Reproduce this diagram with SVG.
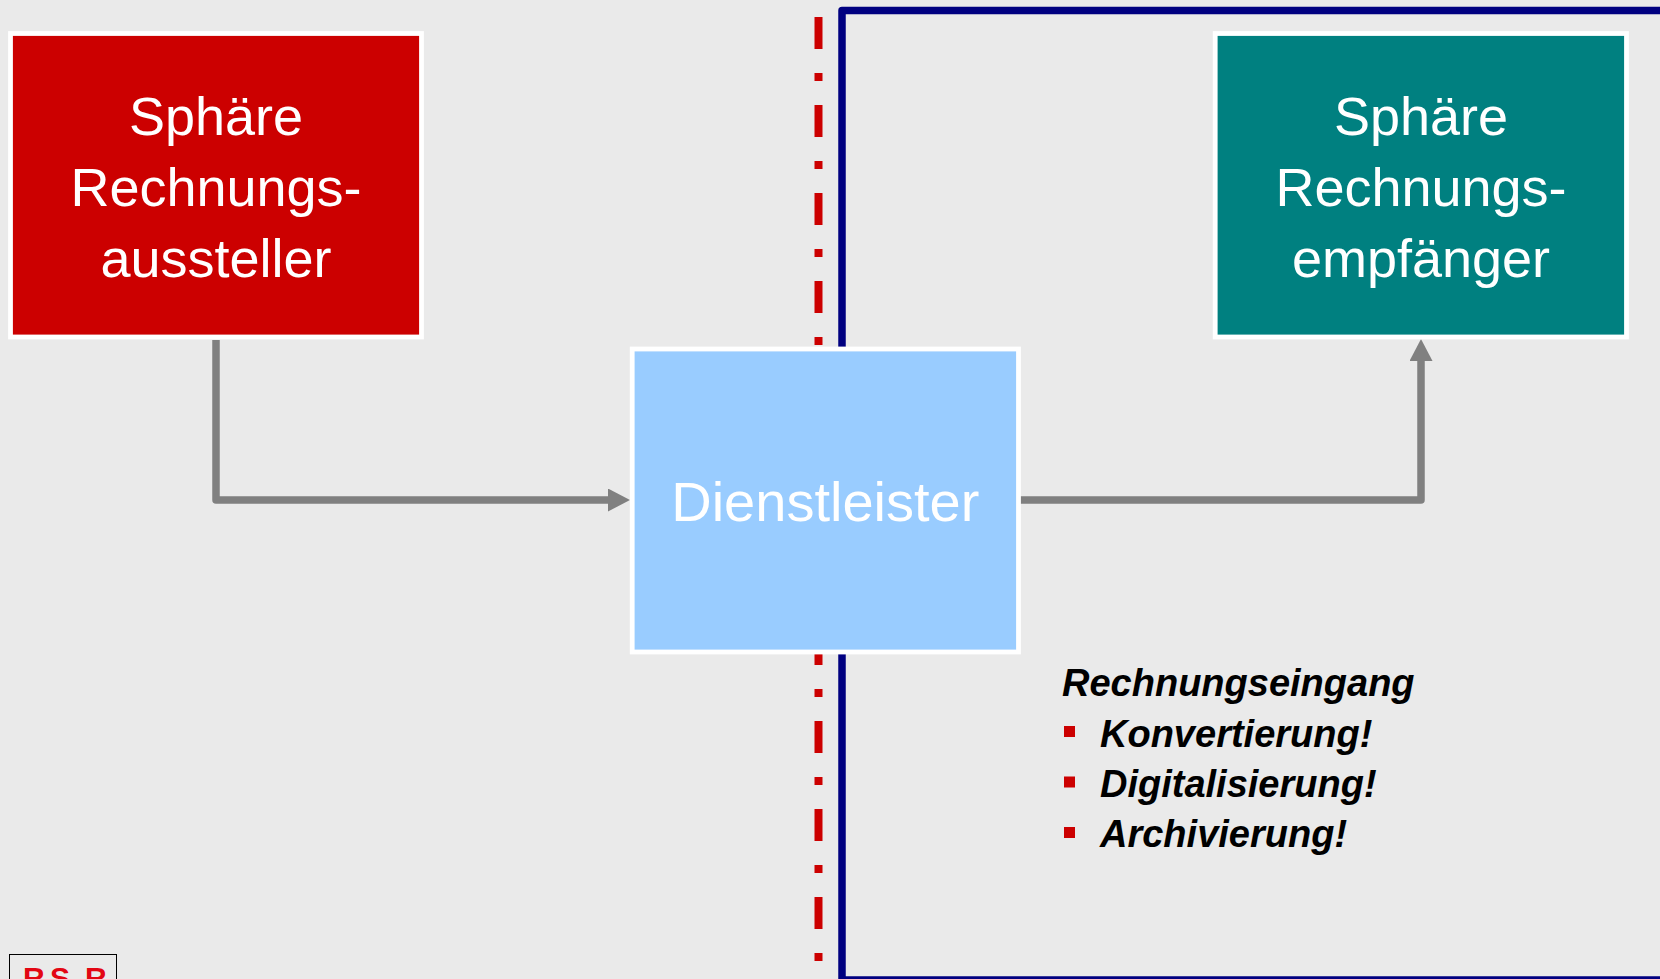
<svg xmlns="http://www.w3.org/2000/svg" width="1660" height="979" viewBox="0 0 1660 979">
<style>
.box{stroke:#FFFFFF;stroke-width:4.8}
.lbl{font-family:"Liberation Sans",Arial,sans-serif;fill:#FFFFFF;text-anchor:middle}
.conn{fill:none;stroke:#808080;stroke-width:7.5;stroke-linejoin:round}
.list{font-family:"Liberation Sans",Arial,sans-serif;font-weight:bold;font-style:italic;font-size:38px;fill:#000000}
.bullet{fill:#CC0000}
</style>
<defs>
<marker id="arr" viewBox="0 0 22 23" refX="0" refY="11.5" markerWidth="22" markerHeight="23" markerUnits="userSpaceOnUse" orient="auto">
<path d="M0,0 L22,11.5 L0,23 Z" fill="#808080"/>
</marker>
</defs>
<rect width="1660" height="979" fill="#EAEAEA"/>
<g id="boundary">
<line x1="818.5" y1="17" x2="818.5" y2="979" stroke="#CC0000" stroke-width="8" stroke-dasharray="32 24 8 24"/>
<rect x="842" y="10.5" width="900" height="969.5" fill="none" stroke="#000080" stroke-width="7.5" stroke-linejoin="round"/>
</g>
<g id="connectors">
<path class="conn" d="M216,340 V500 H608" marker-end="url(#arr)"/>
<path class="conn" d="M1020,500 H1421 V361" marker-end="url(#arr)"/>
</g>
<g id="node-aussteller">
<rect class="box" x="10.5" y="33.5" width="411" height="303.5" fill="#CC0000"/>
<text class="lbl" font-size="54" x="216" y="135">Sphäre</text>
<text class="lbl" font-size="54" x="216" y="206">Rechnungs-</text>
<text class="lbl" font-size="54" x="216" y="277">aussteller</text>
</g>
<g id="node-empfaenger">
<rect class="box" x="1215.2" y="33.5" width="411.3" height="303.5" fill="#008080"/>
<text class="lbl" font-size="54" x="1421" y="135">Sphäre</text>
<text class="lbl" font-size="54" x="1421" y="206">Rechnungs-</text>
<text class="lbl" font-size="54" x="1421" y="277">empfänger</text>
</g>
<g id="node-dienstleister">
<rect class="box" x="632.2" y="349" width="386.3" height="303" fill="#99CCFF"/>
<text class="lbl" font-size="56" x="825.3" y="521">Dienstleister</text>
</g>
<g id="note">
<text class="list" x="1062" y="696" font-size="37">Rechnungseingang</text>
<rect class="bullet" x="1064" y="726" width="11" height="11"/>
<text class="list" x="1100" y="747">Konvertierung!</text>
<rect class="bullet" x="1064" y="776.5" width="11" height="11"/>
<text class="list" x="1100" y="797">Digitalisierung!</text>
<rect class="bullet" x="1064" y="827" width="11" height="11"/>
<text class="list" x="1100" y="847">Archivierung!</text>
</g>
<g id="logo">
<rect x="9.5" y="954.5" width="107" height="40" fill="none" stroke="#000000" stroke-width="1"/>
<text x="23 50 85" y="988" font-family="Liberation Sans,Arial,sans-serif" font-weight="bold" font-size="30" fill="#E30613">RSR</text>
</g>
</svg>
